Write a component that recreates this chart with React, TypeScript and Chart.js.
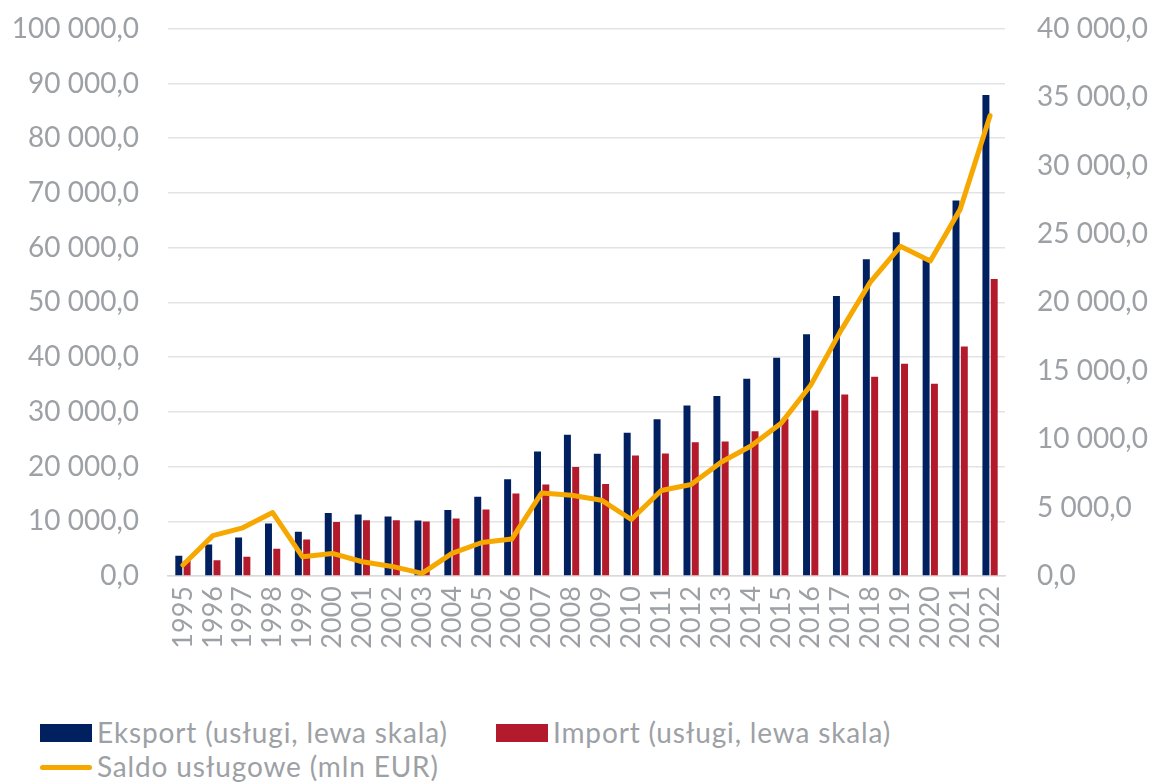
import React, { useEffect, useRef } from 'react';
import { Chart, registerables } from 'chart.js';

Chart.register(...registerables);

const years = ['1995', '1996', '1997', '1998', '1999', '2000', '2001', '2002', '2003', '2004', '2005', '2006', '2007', '2008', '2009', '2010', '2011', '2012', '2013', '2014', '2015', '2016', '2017', '2018', '2019', '2020', '2021', '2022'];
const eksport = [3700, 5770, 7050, 9600, 8070, 11530, 11240, 10870, 10150, 12080, 14500, 17670, 22770, 25810, 22350, 26170, 28650, 31150, 32910, 36030, 39890, 44200, 51180, 57870, 62840, 58180, 68610, 87920];
const importSeries = [2800, 2860, 3520, 4970, 6680, 9890, 10200, 10200, 9960, 10510, 12150, 15060, 16700, 19910, 16810, 22040, 22400, 24460, 24590, 26440, 28750, 30240, 33150, 36430, 38800, 35150, 41950, 54280];
const saldo = [800, 2950, 3520, 4640, 1400, 1650, 1040, 700, 190, 1650, 2450, 2700, 6070, 5900, 5540, 4130, 6250, 6690, 8320, 9500, 11140, 13940, 17900, 21500, 24100, 23030, 26800, 33650];

const labelEksport = 'Eksport (usługi, lewa skala)';
const labelImport = 'Import (usługi, lewa skala)';
const labelSaldo = 'Saldo usługowe (mln EUR)';

const NAVY = '#002060';
const RED = '#B31B2C';
const ORANGE = '#F6A800';
const GRAY = '#9DA1A5';
const FONT = 'Lato, "Open Sans", sans-serif';

const fmt = (v: number) =>
  Math.round(v).toString().replace(/\B(?=(\d{3})+(?!\d))/g, ' ') + ',0';

export default function App() {
  const ref = useRef<HTMLCanvasElement | null>(null);

  useEffect(() => {
    if (!ref.current) return;
    const chart = new Chart(ref.current, {
      type: 'bar',
      data: {
        labels: years,
        datasets: [
          {
            type: 'line',
            label: labelSaldo,
            data: saldo,
            yAxisID: 'y1',
            borderColor: ORANGE,
            backgroundColor: ORANGE,
            borderWidth: 5,
            pointRadius: 0,
            tension: 0,
            borderJoinStyle: 'round',
            borderCapStyle: 'round',
            order: 0,
          } as any,
          {
            type: 'bar',
            label: labelEksport,
            data: eksport,
            yAxisID: 'y',
            backgroundColor: NAVY,
            categoryPercentage: 0.555,
            barPercentage: 0.84,
            order: 1,
          },
          {
            type: 'bar',
            label: labelImport,
            data: importSeries,
            yAxisID: 'y',
            backgroundColor: RED,
            categoryPercentage: 0.555,
            barPercentage: 0.84,
            order: 1,
          },
        ],
      },
      options: {
        responsive: false,
        animation: false,
        devicePixelRatio: 1,
        layout: { padding: { top: 0, left: 0, right: 0, bottom: 0 } },
        plugins: {
          legend: { display: false },
          tooltip: { enabled: false },
        },
        scales: {
          x: {
            grid: { display: false, drawTicks: false },
            border: { display: true, color: '#D9D9D9', width: 1.5 },
            ticks: {
              color: GRAY,
              font: { family: FONT, size: 27 },
              minRotation: 90,
              maxRotation: 90,
              autoSkip: false,
              padding: 10,
            },
            afterFit: (s: any) => {
              s.height = 124;
            },
          },
          y: {
            position: 'left',
            min: 0,
            max: 100000,
            grid: { color: '#E3E3E3', lineWidth: 1.5, drawTicks: false },
            border: { display: false },
            ticks: {
              stepSize: 10000,
              color: GRAY,
              font: { family: FONT, size: 28 },
              padding: 29,
              callback: (v: any) => fmt(Number(v)),
            },
            afterFit: (s: any) => {
              s.width = 168;
            },
          },
          y1: {
            position: 'right',
            min: 0,
            max: 40000,
            grid: { display: false, drawTicks: false },
            border: { display: false },
            ticks: {
              stepSize: 5000,
              color: GRAY,
              font: { family: FONT, size: 28 },
              padding: 32,
              callback: (v: any) => fmt(Number(v)),
            },
            afterFit: (s: any) => {
              s.width = 147;
            },
          },
        },
      },
    });
    return () => chart.destroy();
  }, []);

  const textStyle: React.CSSProperties = {
    position: 'absolute',
    fontFamily: FONT,
    fontSize: 28,
    letterSpacing: '0.85px',
    color: GRAY,
    lineHeight: '30px',
    whiteSpace: 'nowrap',
  };

  return (
    <div style={{ position: 'absolute', left: 0, top: 0, width: 1152, height: 782, background: '#fff', overflow: 'hidden' }}>
      <canvas ref={ref} width={1152} height={720} style={{ position: 'absolute', left: 0, top: -20, width: 1152, height: 720 }} />
      <div style={{ position: 'absolute', left: 40, top: 724, width: 52, height: 18, background: NAVY }} />
      <div style={{ ...textStyle, left: 97, top: 717 }}>{labelEksport}</div>
      <div style={{ position: 'absolute', left: 496, top: 724, width: 52, height: 18, background: RED }} />
      <div style={{ ...textStyle, left: 553, top: 717 }}>{labelImport}</div>
      <div style={{ position: 'absolute', left: 40, top: 765, width: 52, height: 5, borderRadius: 3, background: ORANGE }} />
      <div style={{ ...textStyle, left: 97, top: 751 }}>{labelSaldo}</div>
    </div>
  );
}
